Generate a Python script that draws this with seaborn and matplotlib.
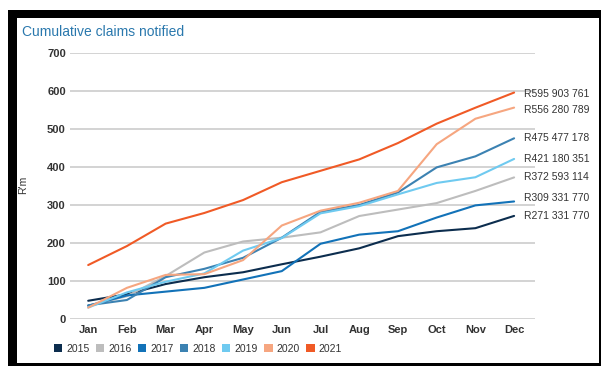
import matplotlib
matplotlib.use("Agg")
import matplotlib.pyplot as plt
from matplotlib.patches import Rectangle, Patch
import seaborn as sns
import pandas as pd

months = ["Jan", "Feb", "Mar", "Apr", "May", "Jun", "Jul", "Aug", "Sep", "Oct", "Nov", "Dec"]
years = ["2015", "2016", "2017", "2018", "2019", "2020", "2021"]
v2015 = [48, 65, 92, 110, 123, 144, 164, 186, 218, 231, 239, 271.3]
v2016 = [35, 60, 113, 175, 204, 214, 228, 271, 288, 305, 337, 372.6]
v2017 = [35, 62, 72, 82, 104, 126, 198, 222, 231, 267, 299, 309.3]
v2018 = [36, 50, 110, 132, 161, 214, 282, 300, 333, 399, 428, 475.5]
v2019 = [30, 70, 98, 120, 180, 213, 278, 297, 328, 358, 373, 421.2]
v2020 = [30, 82, 116, 118, 155, 246, 285, 306, 337, 460, 527, 556.3]
v2021 = [142, 192, 251, 279, 313, 360, 390, 420, 463, 514, 556, 595.9]
end_labels = ["R271 331 770", "R372 593 114", "R309 331 770", "R475 477 178",
              "R421 180 351", "R556 280 789", "R595 903 761"]
colors = ["#0c2d4e", "#bdbdbd", "#1272b8", "#3c82b2", "#6fcaf0", "#f6a680", "#f05a26"]

series = [v2015, v2016, v2017, v2018, v2019, v2020, v2021]
df = pd.DataFrame({
    "month": months * len(years),
    "value": [v for s in series for v in s],
    "year": [y for y in years for _ in months],
})

sns.set_style("white")
plt.rcParams["font.family"] = ["Liberation Sans", "DejaVu Sans"]

fig = plt.figure(figsize=(6.03, 3.67), dpi=100)
# black frame
fig.patches.append(Rectangle((8 / 603, 1 - 366 / 367), 593 / 603, 356 / 367,
                             transform=fig.transFigure, facecolor="black",
                             edgecolor="none", zorder=-10))
fig.patches.append(Rectangle((17 / 603, 1 - 363 / 367), 582 / 603, 345 / 367,
                             transform=fig.transFigure, facecolor="white",
                             edgecolor="none", zorder=-9))

ax = fig.add_axes([70 / 603, 1 - 319 / 367, 465 / 603, 266 / 367])
ax.set_facecolor("none")
palette = dict(zip(years, colors))
sns.lineplot(data=df, x="month", y="value", hue="year", palette=palette,
             linewidth=1.5, ax=ax, legend=False, sort=False)

ax.set_ylim(0, 700)
ax.set_xlim(-0.47, 11.54)
ax.set_yticks(range(0, 701, 100))
ax.yaxis.grid(True, color="#c8c8c8", linewidth=1.1)
ax.set_axisbelow(True)
for s in ax.spines.values():
    s.set_visible(False)
ax.tick_params(axis="both", length=0, labelsize=8, colors="#333333")
ax.tick_params(axis="y", pad=3)
ax.tick_params(axis="x", pad=4)
for lbl in ax.get_xticklabels() + ax.get_yticklabels():
    lbl.set_fontweight("bold")
ax.set_xlabel("")
ax.set_ylabel("R'm", fontsize=7.5, color="#333333")
ax.yaxis.set_label_coords(-42 / 465, (319 - 185) / 266)

nudges = {"2017": 9, "2021": -4, "2020": -6}
for y, s, lab in zip(years, series, end_labels):
    ax.annotate(lab, xy=(11, s[-1] + nudges.get(y, 0)), xytext=(7, 0),
                textcoords="offset points", va="center", ha="left",
                fontsize=7.5, color="#333333", annotation_clip=False)

fig.text(22 / 603, 1 - 32 / 367, "Cumulative claims notified", fontsize=10,
         color="#2a78ad", ha="left", va="center")

handles = [Patch(facecolor=c, edgecolor="none") for c in colors]
fig.legend(handles, years, loc="center", bbox_to_anchor=(198 / 603, 1 - 349 / 367),
           ncol=7, frameon=False, fontsize=7.5, handlelength=0.8, handleheight=0.8,
           handletextpad=0.4, columnspacing=0.6, labelcolor="#333333")

fig.savefig("out.png", dpi=100)
